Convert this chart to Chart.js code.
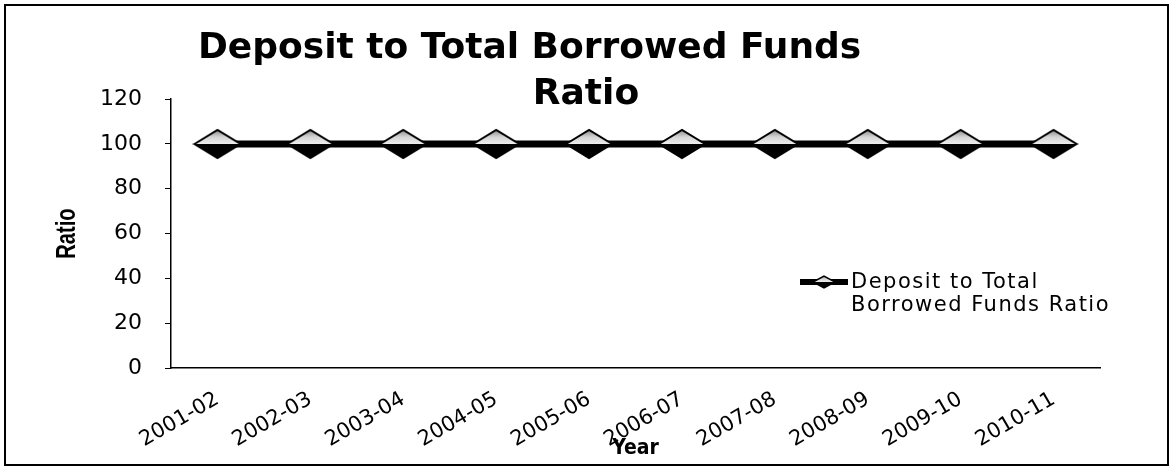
<!DOCTYPE html>
<html>
<head>
<meta charset="utf-8">
<script src="https://cdn.jsdelivr.net/npm/chart.js@4.4.0/dist/chart.umd.min.js"></script>
<style>
  html, body { margin: 0; padding: 0; background: #ffffff; }
  #wrap { width: 1172px; height: 468px; position: relative; }
</style>
</head>
<body>
<div id="wrap"><canvas id="c" width="1172" height="468"></canvas></div>
<script>
// ---- data ----
const categories = ['2001-02', '2002-03', '2003-04', '2004-05', '2005-06', '2006-07', '2007-08', '2008-09', '2009-10', '2010-11'];
const ratioValues = [100, 100, 100, 100, 100, 100, 100, 100, 100, 100];
const yTickValues = [0, 20, 40, 60, 80, 100, 120];
const seriesName = 'Deposit to Total Borrowed Funds Ratio';
const titleLines = ['Deposit to Total Borrowed Funds', 'Ratio'];
const legendLines = ['Deposit to Total', 'Borrowed Funds Ratio'];
const xAxisTitle = 'Year';
const yAxisTitle = 'Ratio';

// ---- marker shape ----
function makeDiamond(w, h, lw) {
  const c = document.createElement('canvas');
  c.width = w + 4; c.height = h + 4;
  const g = c.getContext('2d');
  const cx = c.width / 2, cy = c.height / 2;
  g.beginPath();
  g.moveTo(cx - w / 2, cy); g.lineTo(cx + w / 2, cy); g.lineTo(cx, cy + h / 2); g.closePath();
  g.fillStyle = '#000'; g.fill();
  g.beginPath();
  g.moveTo(cx - w / 2, cy); g.lineTo(cx, cy - h / 2); g.lineTo(cx + w / 2, cy); g.closePath();
  const gr = g.createLinearGradient(0, cy - h / 2, 0, cy);
  gr.addColorStop(0, '#8a8a8a'); gr.addColorStop(0.5, '#d4d4d4'); gr.addColorStop(1, '#eeeeee');
  g.fillStyle = gr; g.fill();
  g.beginPath();
  g.moveTo(cx - w / 2, cy); g.lineTo(cx, cy - h / 2); g.lineTo(cx + w / 2, cy); g.lineTo(cx, cy + h / 2); g.closePath();
  g.lineWidth = lw; g.strokeStyle = '#000'; g.stroke();
  return c;
}
const bigDiamond = makeDiamond(46, 28, 2);
const smallDiamond = makeDiamond(22, 12, 1.5);

// ---- plugins ----
const frame = {
  id: 'frame',
  beforeDraw(chart) {
    const ctx = chart.ctx;
    ctx.save();
    ctx.fillStyle = '#fff';
    ctx.fillRect(0, 0, chart.width, chart.height);
    ctx.strokeStyle = '#000';
    ctx.lineWidth = 2;
    ctx.strokeRect(5, 5, 1163, 460);
    ctx.restore();
  }
};
const yTitle = {
  id: 'yTitle',
  afterDraw(chart) {
    const ctx = chart.ctx;
    const area = chart.chartArea;
    ctx.save();
    ctx.translate(67, (area.top + area.bottom) / 2);
    ctx.rotate(-Math.PI / 2);
    ctx.scale(0.72, 1);
    ctx.fillStyle = '#000';
    ctx.font = 'bold 28px "Liberation Sans"';
    ctx.textAlign = 'center';
    ctx.textBaseline = 'middle';
    ctx.fillText(yAxisTitle, 0, 0);
    ctx.restore();
  }
};
const sideLegend = {
  id: 'sideLegend',
  afterDraw(chart) {
    const ctx = chart.ctx;
    ctx.save();
    ctx.strokeStyle = '#000';
    ctx.lineWidth = 6;
    ctx.beginPath();
    ctx.moveTo(800, 282); ctx.lineTo(848, 282);
    ctx.stroke();
    ctx.drawImage(smallDiamond, 824 - smallDiamond.width / 2, 282 - smallDiamond.height / 2);
    ctx.fillStyle = '#000';
    ctx.font = '21px "DejaVu Sans"';
    if ('letterSpacing' in ctx) ctx.letterSpacing = '1.5px';
    ctx.textBaseline = 'alphabetic';
    ctx.textAlign = 'left';
    ctx.fillText(legendLines[0], 851, 288);
    ctx.fillText(legendLines[1], 851, 311);
    ctx.restore();
  }
};

new Chart(document.getElementById('c'), {
  type: 'line',
  data: {
    labels: categories,
    datasets: [{
      label: seriesName,
      data: ratioValues,
      borderColor: '#000',
      borderWidth: 7,
      pointStyle: bigDiamond,
      pointRadius: 14,
      tension: 0,
      fill: false
    }]
  },
  options: {
    responsive: false,
    animation: false,
    layout: { padding: { top: 0, left: 0, right: 0, bottom: 0 } },
    plugins: {
      legend: { display: false },
      tooltip: { enabled: false },
      title: {
        display: true,
        text: [titleLines[0] + '         ', titleLines[1]],
        color: '#000',
        font: { family: '"DejaVu Sans"', size: 36, weight: 'bold', lineHeight: 1.28 },
        padding: { top: 26, bottom: -19 }
      }
    },
    scales: {
      x: {
        type: 'category',
        offset: true,
        grid: { display: false, drawTicks: false },
        border: { display: true, color: '#000', width: 1.5 },
        ticks: {
          color: '#000',
          font: { family: '"DejaVu Sans"', size: 21 },
          minRotation: 30, maxRotation: 30,
          autoSkip: false,
          labelOffset: 0,
          padding: 19
        },
        title: {
          display: true, text: xAxisTitle, color: '#000',
          font: { family: '"DejaVu Sans Condensed", "DejaVu Sans", sans-serif', size: 21, weight: 'bold', lineHeight: 1.2 },
          padding: { top: 0, bottom: 7 }
        },
        afterFit(s) { s.height = 100; }
      },
      y: {
        type: 'linear',
        position: 'left',
        min: 0, max: 120,
        afterBuildTicks(s) { s.ticks = yTickValues.map(v => ({ value: v })); },
        grid: { display: true, drawOnChartArea: false, drawTicks: true, tickLength: 6, color: '#000' },
        border: { display: true, color: '#000', width: 1.5 },
        ticks: {
          color: '#000',
          font: { family: '"DejaVu Sans"', size: 22 },
          padding: 23
        },
        title: { display: false, text: yAxisTitle },
        afterFit(s) { s.width = 171; }
      },
      yRight: {
        type: 'linear',
        position: 'right',
        display: true,
        grid: { display: false, drawTicks: false },
        border: { display: false },
        ticks: { display: false },
        afterFit(s) { s.width = 72; }
      }
    }
  },
  plugins: [frame, yTitle, sideLegend]
});
</script>
</body>
</html>
